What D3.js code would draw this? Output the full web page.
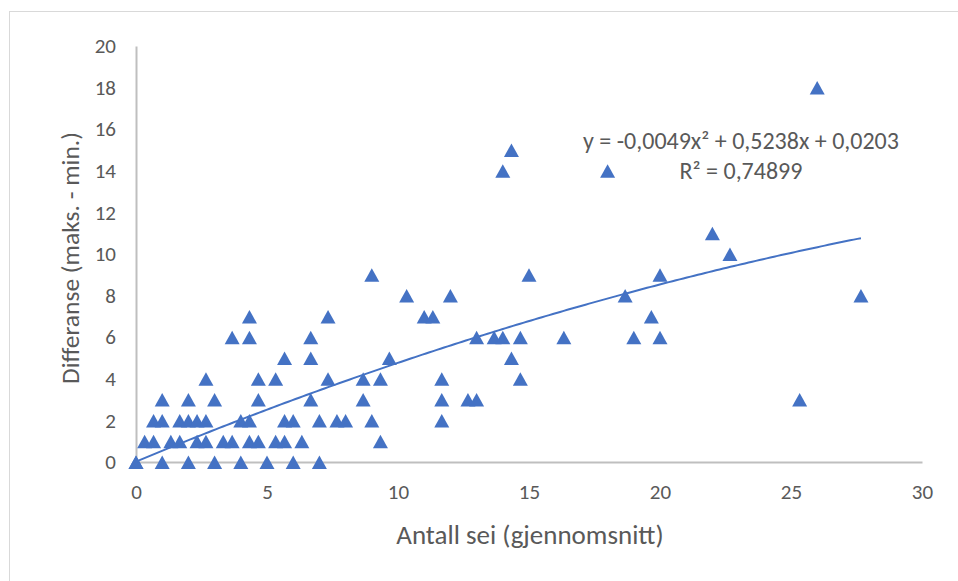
<!DOCTYPE html>
<html>
<head>
<meta charset="utf-8">
<script src="https://cdn.jsdelivr.net/npm/d3@7"></script>
<style>
  html, body { margin: 0; padding: 0; background: #fff; }
  svg { display: block; }
  text { font-family: Carlito, Calibri, Lato, sans-serif; fill: #595959; }
</style>
</head>
<body>
<svg id="chart" width="958" height="581"></svg>
<script>
// ---- Data ----
const xValues = [
  0, 0, 1, 2, 3, 4, 5, 6, 7,
  0.33, 0.67, 1.33, 1.67, 2.33, 2.67, 3.33, 3.67, 4.33, 4.67, 5.33, 5.67, 6.33, 9.33,
  0.67, 1, 1.67, 2, 2.33, 2.67, 4, 4.33, 5.67, 6, 7, 7.67, 8, 9, 11.67,
  1, 2, 3, 4.67, 6.67, 8.67, 11.67, 12.67, 13, 25.33,
  2.67, 4.67, 5.33, 7.33, 8.67, 9.33, 11.67, 14.67,
  5.67, 6.67, 9.67, 14.33,
  3.67, 4.33, 6.67, 13, 13.67, 14, 14.67, 16.33, 19, 20,
  4.33, 7.33, 11, 11.33, 19.67,
  10.33, 12, 18.67, 27.67,
  9, 15, 20,
  22.67,
  22,
  14, 18,
  14.33,
  26
];
const yValues = [
  0, 0, 0, 0, 0, 0, 0, 0, 0,
  1, 1, 1, 1, 1, 1, 1, 1, 1, 1, 1, 1, 1, 1,
  2, 2, 2, 2, 2, 2, 2, 2, 2, 2, 2, 2, 2, 2, 2,
  3, 3, 3, 3, 3, 3, 3, 3, 3, 3,
  4, 4, 4, 4, 4, 4, 4, 4,
  5, 5, 5, 5,
  6, 6, 6, 6, 6, 6, 6, 6, 6, 6,
  7, 7, 7, 7, 7,
  8, 8, 8, 8,
  9, 9, 9,
  10,
  11,
  14, 14,
  15,
  18
];
const xTicks = [0, 5, 10, 15, 20, 25, 30];
const yTicks = [0, 2, 4, 6, 8, 10, 12, 14, 16, 18, 20];
// trendline coefficients shown on the chart (a·x² + b·x + c)
const trendCoef = [-0.0049, 0.5238, 0.0203];
const equationLabel = "y = -0,0049x² + 0,5238x + 0,0203";
const r2Label = "R² = 0,74899";
const xTitle = "Antall sei (gjennomsnitt)";
const yTitle = "Differanse (maks. - min.)";

// ---- Drawing ----
const svg = d3.select("#chart");
const blue = "#4472C4";

// chart area border
svg.append("rect")
  .attr("x", 9.5).attr("y", 11.5)
  .attr("width", 1000).attr("height", 1000)
  .attr("fill", "none").attr("stroke", "#D9D9D9").attr("stroke-width", 1);

const x = d3.scaleLinear().domain([0, 30]).range([136, 922]);
const y = d3.scaleLinear().domain([0, 20]).range([462, 46]);

// axes
const xAxis = d3.axisBottom(x).tickValues(xTicks).tickSize(0).tickPadding(22).tickFormat(d3.format("d"));
const yAxis = d3.axisLeft(y).tickValues(yTicks).tickSize(0).tickPadding(20).tickFormat(d3.format("d"));

const gx = svg.append("g").attr("transform", `translate(0,${y(0)})`).call(xAxis);
const gy = svg.append("g").attr("transform", `translate(${x(0)},0)`).call(yAxis);
[gx, gy].forEach(g => {
  g.select(".domain").attr("stroke", "#BFBFBF").attr("stroke-width", 2);
  g.selectAll("text").attr("fill", "#595959").style("font-size", "21px")
    .style("font-family", "Carlito, Calibri, Lato, sans-serif");
});
gx.selectAll("text").attr("dy", "0.71em");

// markers
const tri = "M0,-7L7.5,6.5L-7.5,6.5Z";
svg.append("g").selectAll("path")
  .data(xValues.map((v, i) => [v, yValues[i]]))
  .join("path")
  .attr("d", tri)
  .attr("transform", d => `translate(${x(d[0])},${y(d[1]) + 0.5})`)
  .attr("fill", blue);

// trendline
const xMax = d3.max(xValues);
const trendPts = d3.range(0, 201).map(i => {
  const xv = xMax * i / 200;
  return [xv, trendCoef[0] * xv * xv + trendCoef[1] * xv + trendCoef[2]];
});
svg.append("path")
  .datum(trendPts)
  .attr("d", d3.line().x(d => x(d[0])).y(d => y(d[1])))
  .attr("fill", "none").attr("stroke", blue).attr("stroke-width", 2);

// equation labels
svg.append("text").attr("x", 741).attr("y", 149).attr("text-anchor", "middle")
  .style("font-size", "24px").text(equationLabel);
svg.append("text").attr("x", 741).attr("y", 179).attr("text-anchor", "middle")
  .style("font-size", "24px").text(r2Label);

// axis titles
svg.append("text").attr("x", 530).attr("y", 544).attr("text-anchor", "middle")
  .style("font-size", "27px").text(xTitle);
svg.append("text").attr("transform", "translate(79,258) rotate(-90)").attr("text-anchor", "middle")
  .style("font-size", "25.5px").text(yTitle);
</script>
</body>
</html>
